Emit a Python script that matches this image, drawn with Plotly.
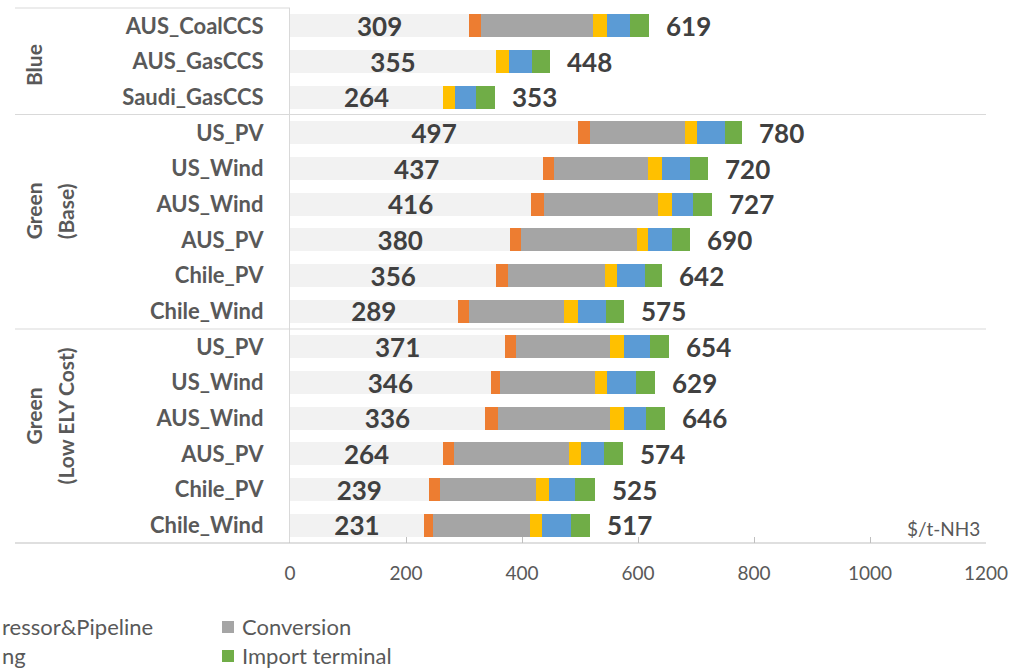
import plotly.graph_objects as go

# ---------------- data ----------------
categories = ["AUS_CoalCCS", "AUS_GasCCS", "Saudi_GasCCS",
              "US_PV", "US_Wind", "AUS_Wind", "AUS_PV", "Chile_PV", "Chile_Wind",
              "US_PV", "US_Wind", "AUS_Wind", "AUS_PV", "Chile_PV", "Chile_Wind"]
production = [309, 355, 264, 497, 437, 416, 380, 356, 289, 371, 346, 336, 264, 239, 231]
compressor_pipeline = [21, 0, 0, 20, 19, 22, 19, 20, 20, 19, 16, 23, 19, 20, 16]
conversion = [193, 0, 0, 164, 161, 196, 199, 167, 163, 161, 164, 192, 198, 165, 167]
export_terminal = [24, 23, 20, 20, 24, 24, 20, 20, 24, 24, 21, 24, 20, 22, 21]
shipping = [39, 40, 36, 49, 49, 36, 40, 49, 49, 46, 49, 38, 40, 46, 49]
import_terminal = [33, 30, 33, 30, 30, 33, 32, 30, 30, 33, 33, 33, 33, 33, 33]
totals = [619, 448, 353, 780, 720, 727, 690, 642, 575, 654, 629, 646, 574, 525, 517]
x_ticks = [0, 200, 400, 600, 800, 1000, 1200]
unit_label = "$/t-NH3"
# legend texts as visible in the (cropped) reference picture
legend_visible = ["ressor&Pipeline", "ng", "Conversion", "Import terminal"]

# ---------------- style ----------------
FONT = "Lato"
W, H = 1023, 669
L, R, T, B = 290, 37, 8, 126
PW, PH = W - L - R, H - T - B
AX = "#BFBFBF"
TXT = "#595959"
DARK = "#404040"


def px_x(px):
    return (px - L) / PW


def px_y(py):
    return (H - B - py) / PH


rows = list(range(len(categories)))
series = [
    ("Production", production, "#F2F2F2"),
    ("Compressor&Pipeline", compressor_pipeline, "#ED7D31"),
    ("Conversion", conversion, "#A5A5A5"),
    ("Export terminal", export_terminal, "#FFC000"),
    ("Shipping", shipping, "#5B9BD5"),
    ("Import terminal", import_terminal, "#70AD47"),
]

fig = go.Figure()
for i, (name, vals, col) in enumerate(series):
    kw = {}
    if i == 0:
        kw = dict(text=[str(v) for v in vals], textposition="inside",
                  insidetextanchor="middle", textangle=0, constraintext="none",
                  textfont=dict(family=FONT, size=26, color=DARK, weight="bold"))
    fig.add_trace(go.Bar(
        y=rows, x=vals, orientation="h", name=name, width=0.645,
        marker=dict(color=col, line=dict(width=0)),
        showlegend=False, cliponaxis=False, hoverinfo="x+name", **kw))

annotations = []
# total labels
for r, t in zip(rows, totals):
    annotations.append(dict(x=t, y=r, xref="x", yref="y", text=f"<b>{t}</b>",
                            showarrow=False, xanchor="left", xshift=15,
                            font=dict(family=FONT, size=26, color=DARK)))

# group labels (rotated)
grp_font = dict(family=FONT, size=21, color=TXT, weight="bold")
group_lines = [
    (["Blue"], 1.1, [33]),
    (["Green", "(Base)"], 5.2, [33, 65]),
    (["Green", "(Low ELY Cost)"], 10.95, [33, 65]),
]
for lines, yc, xs in group_lines:
    for line, xpx in zip(lines, xs):
        annotations.append(dict(x=px_x(xpx), y=yc, xref="paper", yref="y",
                                text=line, textangle=-90, showarrow=False,
                                xanchor="center", yanchor="middle", font=grp_font))

# unit label
annotations.append(dict(x=px_x(982), y=px_y(528), xref="paper", yref="paper",
                        text=unit_label, showarrow=False, xanchor="right",
                        yanchor="middle", font=dict(family=FONT, size=19, color=TXT)))

# legend (cropped at the left edge, as in the reference)
leg_font = dict(family=FONT, size=22, color=TXT)
leg_pos = [(0, 626), (0, 655), (240, 626), (240, 655)]
for txt, (xpx, ypx) in zip(legend_visible, leg_pos):
    annotations.append(dict(x=px_x(xpx), y=px_y(ypx), xref="paper", yref="paper",
                            text=txt, showarrow=False, xanchor="left",
                            yanchor="middle", font=leg_font))

shapes = []
# frame lines
for py, x0 in [(8, 15), (114.5, 15), (329, 15), (543, 15)]:
    x1 = 290 if py == 8 else 986
    shapes.append(dict(type="line", xref="paper", yref="paper",
                       x0=px_x(x0), x1=px_x(x1), y0=px_y(py), y1=px_y(py),
                       line=dict(color="#D9D9D9" if py != 543 else AX, width=1.2)))
# legend markers
for py, col in [(627, "#A5A5A5"), (656, "#70AD47")]:
    shapes.append(dict(type="rect", xref="paper", yref="paper",
                       x0=px_x(222), x1=px_x(234), y0=px_y(py - 6), y1=px_y(py + 6),
                       fillcolor=col, line=dict(width=0)))

fig.update_layout(
    width=W, height=H, barmode="stack", bargap=0.355,
    margin=dict(l=L, r=R, t=T, b=B, pad=0),
    paper_bgcolor="white", plot_bgcolor="white",
    font=dict(family=FONT, color=TXT),
    annotations=annotations, shapes=shapes, showlegend=False,
    xaxis=dict(range=[0, 1200], tickvals=x_ticks, ticktext=[str(v) for v in x_ticks],
               showgrid=False, zeroline=False, showline=False,
               ticks="inside", ticklen=6, tickcolor=AX, tickwidth=1.2,
               tickfont=dict(family=FONT, size=19, color=TXT), ticklabelstandoff=17),
    yaxis=dict(range=[14.5, -0.5], tickvals=rows, ticktext=categories,
               showgrid=False, zeroline=False, showline=True, linecolor="#D9D9D9",
               linewidth=1.2, ticks="",
               tickfont=dict(family=FONT, size=22, color=TXT, weight="bold"),
               ticklabelstandoff=21),
)

fig.write_html("out.html")
